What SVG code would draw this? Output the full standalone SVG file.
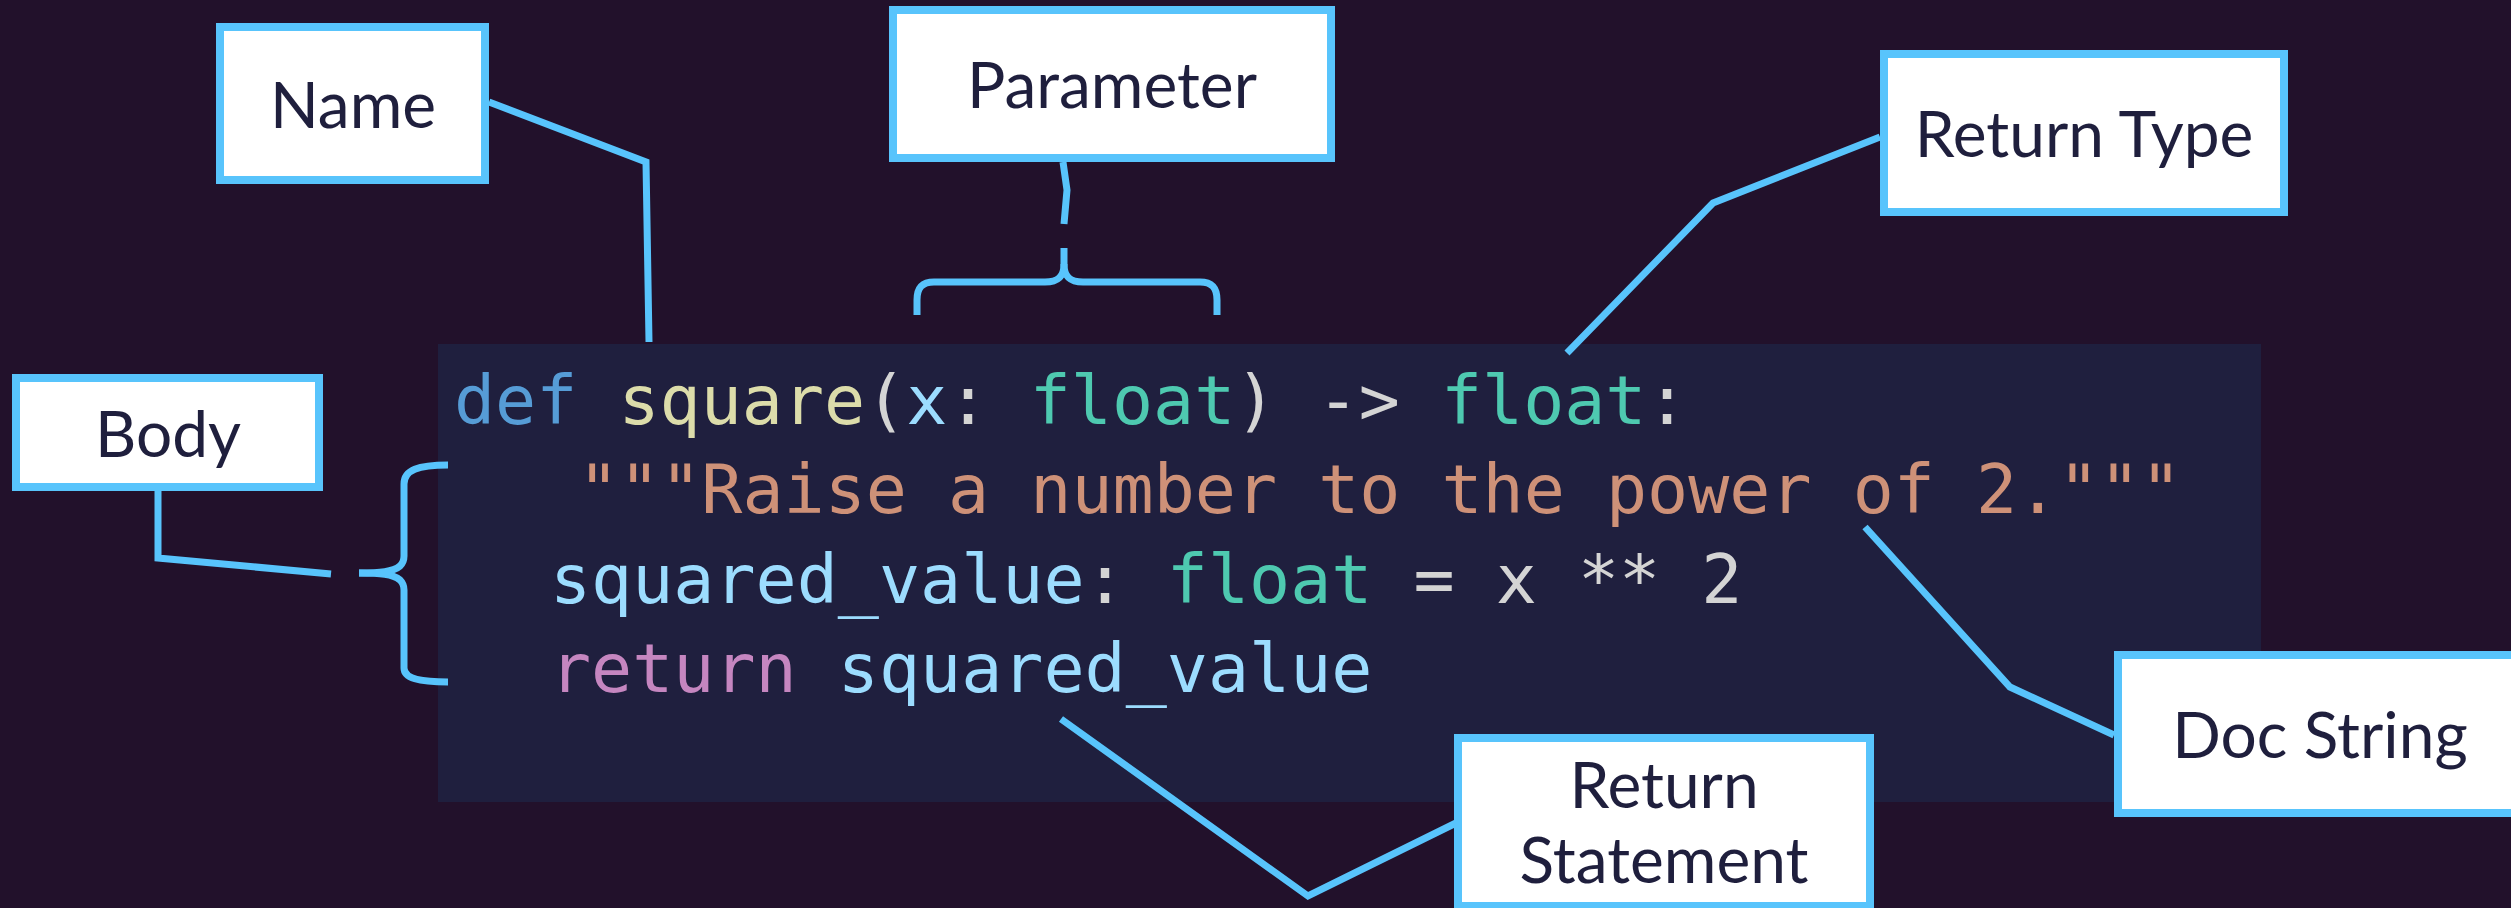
<svg xmlns="http://www.w3.org/2000/svg" width="2511" height="908" viewBox="0 0 2511 908">
<style>
.box{fill:#ffffff;stroke:#58c4fc;stroke-width:8}
.lbl{font-family:Lato,"Liberation Sans",sans-serif;font-size:64px;fill:#1f1f3d;text-anchor:middle}
.conn{fill:none;stroke:#58c4fc;stroke-width:7;stroke-linejoin:miter}
.code{font-family:"DejaVu Sans Mono","Liberation Mono",monospace;font-size:68.3px;fill:#d4d4d4}
.kw{fill:#569cd6}.fn{fill:#dcdcaa}.var{fill:#9cdcfe}.ty{fill:#4ec9b0}.str{fill:#ce9178}.ret{fill:#c586c0}.op{fill:#d4d4d4}
</style>
<rect x="0" y="0" width="2511" height="908" fill="#22112b"/>
<g id="code">
<rect x="438" y="344" width="1823" height="458" fill="#1f1f3e"/>
<text class="code" x="454" y="424" xml:space="preserve"><tspan class="kw">def</tspan> <tspan class="fn">square</tspan><tspan class="op">(</tspan><tspan class="var">x</tspan><tspan class="op">: </tspan><tspan class="ty">float</tspan><tspan class="op">) -&gt; </tspan><tspan class="ty">float</tspan><tspan class="op">:</tspan></text>
<text class="code str" x="578" y="513" xml:space="preserve">"""Raise a number to the power of 2."""</text>
<text class="code" x="550" y="603" xml:space="preserve"><tspan class="var">squared_value</tspan><tspan class="op">: </tspan><tspan class="ty">float</tspan><tspan class="op"> = x ** 2</tspan></text>
<text class="code" x="550" y="692" xml:space="preserve"><tspan class="ret">return</tspan> <tspan class="var">squared_value</tspan></text>
</g>
<g id="connectors">
<polyline class="conn" points="489,102 646,162 649,342"/>
<polyline class="conn" points="1063,162 1067,190 1064,224"/>
<path class="conn" d="M1064 248 L1064 264 C1064 277 1058 282 1045 282 L934 282 C922 282 917 288 917 300 L917 315"/>
<path class="conn" d="M1064 264 C1064 277 1070 282 1083 282 L1200 282 C1212 282 1217 288 1217 300 L1217 315"/>
<polyline class="conn" points="1880,137 1713,203 1567,353"/>
<polyline class="conn" points="158,491 158,558 331,574"/>
<path class="conn" d="M359 573 C380 573 393 572 400 566 C403 563 404 560 404 556 L404 484 C404 470 418 465 448 465"/>
<path class="conn" d="M359 573 C380 573 393 574 400 580 C403 583 404 586 404 590 L404 668 C404 678 418 682 448 682"/>
<polyline class="conn" points="2114,735 2010,687 1865,527"/>
<polyline class="conn" points="1061,719 1308,896 1456,823"/>
</g>
<g id="node-name">
<rect class="box" x="220" y="27" width="265" height="153"/>
<text class="lbl" x="353" y="128">Name</text>
</g>
<g id="node-parameter">
<rect class="box" x="893" y="10" width="438" height="148"/>
<text class="lbl" x="1112" y="108">Parameter</text>
</g>
<g id="node-return-type">
<rect class="box" x="1884" y="54" width="400" height="158"/>
<text class="lbl" x="2084" y="157">Return Type</text>
</g>
<g id="node-body">
<rect class="box" x="16" y="378" width="303" height="109"/>
<text class="lbl" x="168" y="457">Body</text>
</g>
<g id="node-doc-string">
<rect class="box" x="2118" y="655" width="404" height="158"/>
<text class="lbl" x="2320" y="758">Doc String</text>
</g>
<g id="node-return-statement">
<rect class="box" x="1458" y="738" width="412" height="168"/>
<text class="lbl" x="1664" y="808">Return</text>
<text class="lbl" x="1664" y="883">Statement</text>
</g>
</svg>
